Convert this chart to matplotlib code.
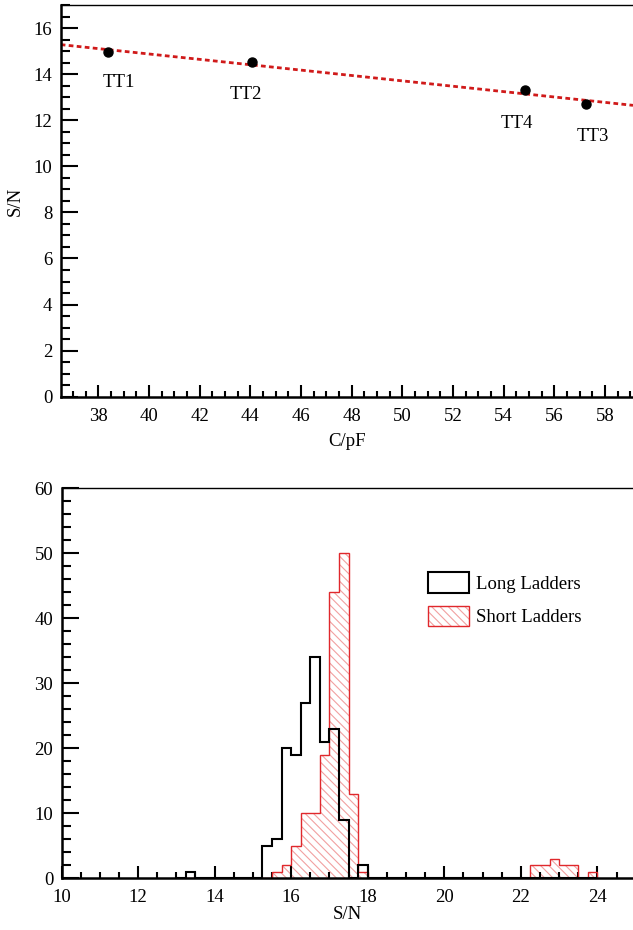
"""
S/N vs capacitance for the four TT ladders, plus S/N histograms
for long and short ladders.
"""

import matplotlib
matplotlib.use("Agg")
import matplotlib.pyplot as plt
import numpy as np
from matplotlib.patches import Patch
from matplotlib.ticker import MultipleLocator

plt.rcParams["font.family"] = ["Liberation Serif", "DejaVu Serif"]
plt.rcParams["font.size"] = 13.5
plt.rcParams["hatch.linewidth"] = 0.8

# --- top panel: S/N vs C ---
ladder_names = ["TT1", "TT2", "TT4", "TT3"]
cap_pf = [38.38, 44.08, 54.84, 57.24]
sn_ladder = [14.96, 14.52, 13.30, 12.69]
# label offsets (points) for each ladder name
label_offsets = [(8, -22), (-5, -23), (-6, -24), (5, -23)]

# --- bottom panel: histograms, bin width 0.25 from 13.0 to 24.0 ---
bin_start = 13.0
bin_width = 0.25
long_counts = [
    0, 1, 0, 0, 0, 0, 0, 0, 0, 5, 6, 20,   # 13.00 .. 15.75
    19, 27, 34, 21, 23, 9, 0, 2,           # 16.00 .. 17.75
    0, 0, 0, 0, 0, 0, 0, 0,                # 18.00 .. 19.75
    0, 0, 0, 0, 0, 0, 0, 0,                # 20.00 .. 21.75
    0, 0, 0, 0, 0, 0, 0, 0,                # 22.00 .. 23.75
]
short_counts = [
    0, 0, 0, 0, 0, 0, 0, 0, 0, 0, 1, 2,    # 13.00 .. 15.75
    5, 10, 10, 19, 44, 50, 13, 1,          # 16.00 .. 17.75
    0, 0, 0, 0, 0, 0, 0, 0,                # 18.00 .. 19.75
    0, 0, 0, 0, 0, 0, 0, 0,                # 20.00 .. 21.75
    0, 2, 2, 3, 2, 2, 0, 1,                # 22.00 .. 23.75
]
bin_edges = bin_start + bin_width * np.arange(len(long_counts) + 1)


def style_axes(ax):
    ax.spines["right"].set_visible(False)
    ax.spines["top"].set_linewidth(1.0)
    ax.spines["left"].set_linewidth(1.8)
    ax.spines["bottom"].set_linewidth(1.8)
    ax.tick_params(which="both", direction="in", top=False, right=False, width=1.5)
    ax.tick_params(axis="y", which="major", length=12.5, pad=6)
    ax.tick_params(axis="y", which="minor", length=6.5)
    ax.tick_params(axis="x", which="major", length=8.5, pad=8)
    ax.tick_params(axis="x", which="minor", length=4.5)


fig = plt.figure(figsize=(6.33, 9.30), dpi=100)

ax1 = fig.add_axes([0.0959, 0.5734, 0.9041, 0.4212])
slope, intercept = np.polyfit(cap_pf, sn_ladder, 1)
x_fit = np.array([36.52, 59.1])
ax1.plot(x_fit, slope * x_fit + intercept, color="#d01a1a", lw=2.0,
         linestyle=(0, (1.7, 1.2)), dash_capstyle="butt", zorder=2)
ax1.plot(cap_pf, sn_ladder, "o", color="black", markersize=6.5, zorder=3)
for name, x, y, off in zip(ladder_names, cap_pf, sn_ladder, label_offsets):
    ax1.annotate(name, (x, y), xytext=off, textcoords="offset points",
                 ha="center", va="center")
ax1.set_xlim(36.52, 59.1)
ax1.set_ylim(0, 17)
ax1.xaxis.set_major_locator(MultipleLocator(2))
ax1.xaxis.set_minor_locator(MultipleLocator(0.5))
ax1.yaxis.set_major_locator(MultipleLocator(2))
ax1.yaxis.set_minor_locator(MultipleLocator(0.5))
ax1.set_xlabel("C/pF", labelpad=6)
ax1.set_ylabel("S/N", labelpad=7)
style_axes(ax1)

ax2 = fig.add_axes([0.0972, 0.0556, 0.9028, 0.4193])
ax2.stairs(short_counts, bin_edges, fill=True, facecolor="white",
           edgecolor="#f2a0a0", linewidth=0, hatch="\\\\\\\\", zorder=1)
ax2.stairs(short_counts, bin_edges, color="#e0282c", linewidth=1.0, zorder=2)
ax2.stairs(long_counts, bin_edges, color="black", linewidth=1.5, zorder=3)
ax2.set_xlim(10, 24.93)
ax2.set_ylim(0, 60)
ax2.xaxis.set_major_locator(MultipleLocator(2))
ax2.xaxis.set_minor_locator(MultipleLocator(0.5))
ax2.yaxis.set_major_locator(MultipleLocator(10))
ax2.yaxis.set_minor_locator(MultipleLocator(2))
ax2.set_xlabel("S/N", labelpad=0)
style_axes(ax2)

long_handle = Patch(facecolor="white", edgecolor="black", linewidth=1.5)
short_handle = (
    Patch(facecolor="white", edgecolor="#f2a0a0", linewidth=0, hatch="\\\\\\\\"),
    Patch(facecolor="none", edgecolor="#e0282c", linewidth=1.0),
)
ax2.legend([long_handle, short_handle], ["Long Ladders", "Short Ladders"],
           loc="upper left", bbox_to_anchor=(0.641, 0.785), frameon=False,
           borderpad=0, borderaxespad=0, handlelength=2.2, handleheight=1.3,
           labelspacing=0.7, handletextpad=0.35)

fig.savefig("out.png", dpi=100)
